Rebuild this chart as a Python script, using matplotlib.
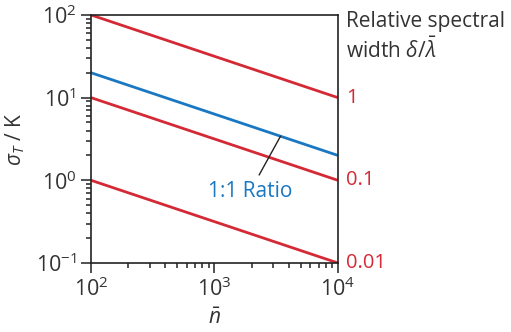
import numpy as np
import matplotlib.pyplot as plt

plt.rcParams['font.family'] = ['Open Sans', 'DejaVu Sans']
plt.rcParams['mathtext.fontset'] = 'custom'
plt.rcParams['mathtext.rm'] = 'Open Sans'
plt.rcParams['mathtext.it'] = 'Open Sans:italic'
plt.rcParams['mathtext.bf'] = 'Open Sans:bold'

# datos
n_vals = [1e2, 1e4]
red_start = [100, 10, 1]       # sigma_T en n = 100
red_end = [10, 1, 0.1]         # sigma_T en n = 10^4
red_labels = ['1', '0.1', '0.01']
blue_vals = [20, 2]            # linea 1:1

red = '#d42a35'
blue = '#1a78c2'
gray = '#333333'

fig = plt.figure(figsize=(5.11, 3.32), dpi=100)
ax = fig.add_axes([0.178, 0.208, 0.483, 0.747])

for s, e, lab in zip(red_start, red_end, red_labels):
    ax.plot(n_vals, [s, e], color=red, lw=2, solid_capstyle='butt')
    ax.text(1.035, np.log10(e / 0.1) / 3, lab, transform=ax.transAxes,
            color=red, fontsize=14.5, va='center', ha='left')

ax.plot(n_vals, blue_vals, color=blue, lw=2, solid_capstyle='butt')

ax.set_xscale('log')
ax.set_yscale('log')
ax.set_xlim(1e2, 1e4)
ax.set_ylim(1e-1, 1e2)

# anotacion
ax.annotate('1:1 Ratio', xy=(10**3.536, 10**0.533), xytext=(10**3.287, 10**-0.141),
            color=blue, fontsize=15, ha='center', va='center',
            arrowprops=dict(arrowstyle='-', color='#222222', lw=1,
                            shrinkA=3, shrinkB=0))

ax.text(1.035, 1.015, 'Relative spectral\nwidth $\\delta/\\bar{\\lambda}$',
        transform=ax.transAxes, fontsize=15, color=gray, va='top', ha='left',
        linespacing=1.3)

ax.set_xlabel('$\\bar{n}$', fontsize=15, color=gray, labelpad=5)
ax.set_ylabel('$\\sigma_T$ / K', fontsize=15, color=gray, labelpad=6)

ax.tick_params(which='both', direction='out', top=False, right=False,
               labelsize=15.5, labelcolor=gray, color='#333333', width=1.2)
ax.tick_params(which='major', length=7)
ax.tick_params(which='minor', length=3.5)
for sp in ax.spines.values():
    sp.set_color('#222222')
    sp.set_linewidth(1.2)

plt.savefig('out.png', dpi=100)
